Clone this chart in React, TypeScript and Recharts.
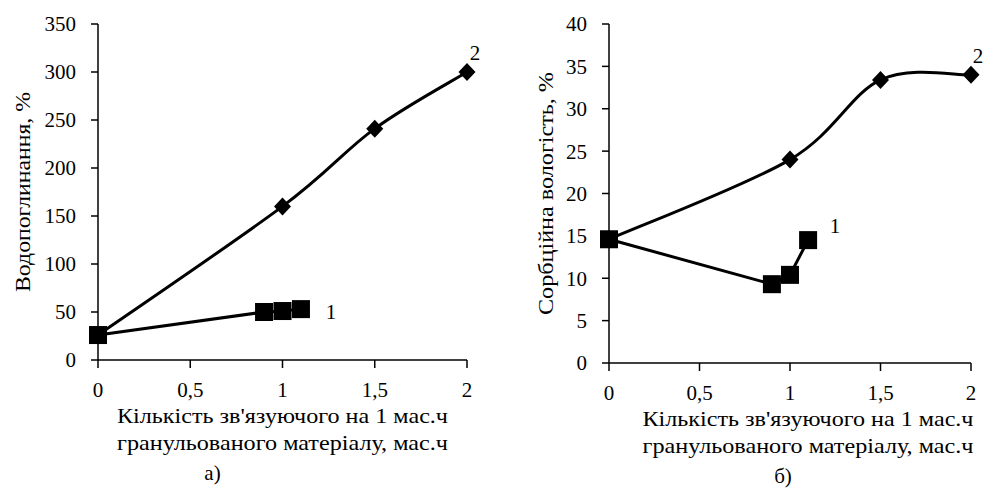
import { LabelList, Line, LineChart, XAxis, YAxis } from "recharts";

// x positions (мас.ч)
const xTicks = [0, 0.5, 1, 1.5, 2];

// а) Водопоглинання
const waterTicks = [0, 50, 100, 150, 200, 250, 300, 350];
const water1 = [
  { x: 0, y: 26 },
  { x: 0.9, y: 50 },
  { x: 1, y: 51 },
  { x: 1.1, y: 53 },
];
const water2 = [
  { x: 0, y: 26 },
  { x: 1, y: 160 },
  { x: 1.5, y: 241 },
  { x: 2, y: 300 },
];

// б) Сорбційна вологість
const sorbTicks = [0, 5, 10, 15, 20, 25, 30, 35, 40];
const sorb1 = [
  { x: 0, y: 14.6 },
  { x: 0.9, y: 9.3 },
  { x: 1, y: 10.4 },
  { x: 1.1, y: 14.5 },
];
const sorb2 = [
  { x: 0, y: 14.6 },
  { x: 1, y: 24 },
  { x: 1.5, y: 33.4 },
  { x: 2, y: 34 },
];

const xTitle = ["Кількість зв'язуючого на 1 мас.ч", "гранульованого матеріалу, мас.ч"];

const FONT = "Liberation Serif";
const INK = "#000";

// Excel-like smoothing (uniform Catmull-Rom through the points)
const smoothCurve = (context: any) => {
  let pts: number[][] = [];
  return {
    areaStart() {},
    areaEnd() {},
    lineStart() {
      pts = [];
    },
    point(x: number, y: number) {
      pts.push([+x, +y]);
    },
    lineEnd() {
      if (!pts.length) return;
      context.moveTo(pts[0][0], pts[0][1]);
      for (let i = 0; i < pts.length - 1; i++) {
        const p0 = pts[Math.max(i - 1, 0)];
        const p1 = pts[i];
        const p2 = pts[i + 1];
        const p3 = pts[Math.min(i + 2, pts.length - 1)];
        context.bezierCurveTo(
          p1[0] + (p2[0] - p0[0]) / 6,
          p1[1] + (p2[1] - p0[1]) / 6,
          p2[0] - (p3[0] - p1[0]) / 6,
          p2[1] - (p3[1] - p1[1]) / 6,
          p2[0],
          p2[1]
        );
      }
    },
  };
};

const SquareDot = (props: any) => {
  const { cx, cy, index } = props;
  if (cx == null || cy == null) return <g key={index} />;
  return <rect key={index} x={cx - 9} y={cy - 9} width={18} height={18} fill={INK} />;
};

const DiamondDot = (props: any) => {
  const { cx, cy, index } = props;
  if (cx == null || cy == null) return <g key={index} />;
  const rx = 8.5;
  const ry = 9;
  return (
    <path
      key={index}
      d={`M${cx},${cy - ry} L${cx + rx},${cy} L${cx},${cy + ry} L${cx - rx},${cy} Z`}
      fill={INK}
    />
  );
};

// series number next to the last point
const seriesTag = (text: string, dx: number, dy: number, lastIndex: number) => (props: any) => {
  const { x, y, index } = props;
  if (index !== lastIndex) return null;
  return (
    <text x={x + dx} y={y + dy} textAnchor="middle" style={{ fontFamily: FONT, fontSize: 21 }} fill={INK}>
      {text}
    </text>
  );
};

const XTitle = (props: any) => {
  const { viewBox, shift, caption, captionShift } = props;
  const cx = viewBox.x + viewBox.width / 2;
  return (
    <g style={{ fontFamily: FONT, fontSize: 21 }} fill={INK}>
      <text x={cx + shift} y={viewBox.y + 63} textAnchor="middle" textLength={331} lengthAdjust="spacingAndGlyphs">
        {xTitle[0]}
      </text>
      <text x={cx + shift} y={viewBox.y + 90} textAnchor="middle" textLength={331} lengthAdjust="spacingAndGlyphs">
        {xTitle[1]}
      </text>
      <text x={cx + captionShift} y={viewBox.y + 120} textAnchor="middle">
        {caption}
      </text>
    </g>
  );
};

const YTitle = (props: any) => {
  const { viewBox, text, left, length } = props;
  const cy = viewBox.y + viewBox.height / 2;
  return (
    <text
      x={left}
      y={cy}
      transform={`rotate(-90, ${left}, ${cy})`}
      textAnchor="middle"
      textLength={length}
      lengthAdjust="spacingAndGlyphs"
      style={{ fontFamily: FONT, fontSize: 21 }}
      fill={INK}
    >
      {text}
    </text>
  );
};

const tickStyle = { fontFamily: FONT, fontSize: 21, fill: INK };
const axisLine = { stroke: INK, strokeWidth: 1.5 };
const fmt = (v: number) => String(v).replace(".", ",");

interface PanelProps {
  width: number;
  yWidth: number;
  right: number;
  xHeight: number;
  yMax: number;
  yTicks: number[];
  s1: { x: number; y: number }[];
  s2: { x: number; y: number }[];
  yTitle: string;
  yTitleX: number;
  yTitleLen: number;
  caption: string;
  titleShift: number;
  captionShift: number;
  tag1: [number, number];
  tag2: [number, number];
}

function Panel(p: PanelProps) {
  return (
    <LineChart
      width={p.width}
      height={488}
      margin={{ top: 24, right: p.right, bottom: 0, left: 0 }}
      style={{ fontFamily: FONT }}
    >
      <XAxis
        type="number"
        dataKey="x"
        domain={[0, 2]}
        ticks={xTicks}
        tickFormatter={fmt}
        height={p.xHeight}
        tickSize={8}
        tickMargin={14}
        tick={tickStyle}
        axisLine={axisLine}
        tickLine={axisLine}
        label={<XTitle shift={p.titleShift} caption={p.caption} captionShift={p.captionShift} />}
      />
      <YAxis
        type="number"
        domain={[0, p.yMax]}
        ticks={p.yTicks}
        width={p.yWidth}
        tickSize={7}
        tickMargin={15}
        tick={tickStyle}
        axisLine={axisLine}
        tickLine={axisLine}
        label={<YTitle text={p.yTitle} left={p.yTitleX} length={p.yTitleLen} />}
      />
      <Line
        data={p.s2}
        dataKey="y"
        type={smoothCurve as any}
        stroke={INK}
        strokeWidth={3}
        dot={DiamondDot}
        activeDot={false}
        isAnimationActive={false}
      >
        <LabelList dataKey="y" content={seriesTag("2", p.tag2[0], p.tag2[1], p.s2.length - 1)} />
      </Line>
      <Line
        data={p.s1}
        dataKey="y"
        type="linear"
        stroke={INK}
        strokeWidth={3}
        dot={SquareDot}
        activeDot={false}
        isAnimationActive={false}
      >
        <LabelList dataKey="y" content={seriesTag("1", p.tag1[0], p.tag1[1], p.s1.length - 1)} />
      </Line>
    </LineChart>
  );
}

export default function App() {
  return (
    <div
      style={{
        position: "absolute",
        left: 0,
        top: 0,
        width: 985,
        height: 488,
        background: "#fff",
        fontFamily: FONT,
      }}
    >
      <div style={{ position: "absolute", left: 0, top: 0 }}>
        <Panel
          width={490}
          yWidth={98}
          right={23}
          xHeight={128}
          yMax={350}
          yTicks={waterTicks}
          s1={water1}
          s2={water2}
          yTitle="Водопоглинання, %"
          yTitleX={30}
          yTitleLen={200}
          caption="а)"
          titleShift={0}
          captionShift={-70}
          tag1={[30, 10]}
          tag2={[8, -12]}
        />
      </div>
      <div style={{ position: "absolute", left: 490, top: 0 }}>
        <Panel
          width={495}
          yWidth={119}
          right={14}
          xHeight={125}
          yMax={40}
          yTicks={sorbTicks}
          s1={sorb1}
          s2={sorb2}
          yTitle="Сорбційна вологість, %"
          yTitleX={63}
          yTitleLen={243}
          caption="б)"
          titleShift={18}
          captionShift={-7}
          tag1={[27, -7]}
          tag2={[7, -12]}
        />
      </div>
    </div>
  );
}
